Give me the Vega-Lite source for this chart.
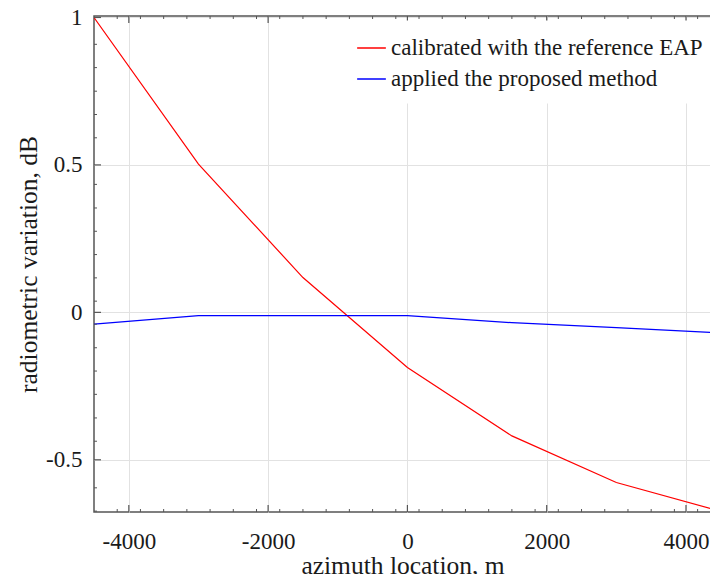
{
  "$schema": "https://vega.github.io/schema/vega-lite/v6.json",
  "width": 617,
  "height": 496,
  "autosize": {"type": "none"},
  "padding": {"left": 94, "top": 16, "right": 0, "bottom": 62},
  "background": "white",
  "config": {
    "view": {"stroke": "#555555", "strokeWidth": 1.5},
    "font": "Liberation Serif"
  },
  "layer": [
    {
      "data": {
        "values": [
          {"series": "calibrated with the reference EAP", "x": -4500, "y": 1.0},
          {"series": "calibrated with the reference EAP", "x": -3000, "y": 0.503},
          {"series": "calibrated with the reference EAP", "x": -1500, "y": 0.118},
          {"series": "calibrated with the reference EAP", "x": 0, "y": -0.187},
          {"series": "calibrated with the reference EAP", "x": 1500, "y": -0.419},
          {"series": "calibrated with the reference EAP", "x": 3000, "y": -0.577},
          {"series": "calibrated with the reference EAP", "x": 4500, "y": -0.675},
          {"series": "applied the proposed method", "x": -4500, "y": -0.040},
          {"series": "applied the proposed method", "x": -3000, "y": -0.011},
          {"series": "applied the proposed method", "x": -1500, "y": -0.011},
          {"series": "applied the proposed method", "x": 0, "y": -0.011},
          {"series": "applied the proposed method", "x": 1500, "y": -0.035},
          {"series": "applied the proposed method", "x": 3000, "y": -0.052},
          {"series": "applied the proposed method", "x": 4500, "y": -0.070}
        ]
      },
      "mark": {"type": "line", "clip": true, "strokeWidth": 1.2},
      "encoding": {
        "x": {
          "field": "x", "type": "quantitative",
          "scale": {"domain": [-4500, 4359], "nice": false, "zero": false},
          "axis": {
            "orient": "bottom",
            "values": [-4000, -2000, 0, 2000, 4000],
            "ticks": false,
            "domain": false,
            "grid": true,
            "gridColor": "#e2e2e2",
            "gridWidth": 1,
            "labelFont": "Liberation Serif",
            "labelFontSize": 23,
            "labelColor": "#1a1a1a",
            "labelPadding": 18,
            "labelFlush": false,
            "labelExpr": "replace(format(datum.value, '~g'), '\u2212', '-')",
            "title": "azimuth location, m",
            "titleFont": "Liberation Serif",
            "titleFontSize": 25.5,
            "titleFontWeight": "normal",
            "titleColor": "#1a1a1a",
            "titlePadding": 0
          }
        },
        "y": {
          "field": "y", "type": "quantitative",
          "scale": {"domain": [-0.677, 1.005], "nice": false, "zero": false},
          "axis": {
            "orient": "left",
            "values": [-0.5, 0, 0.5, 1],
            "ticks": false,
            "domain": false,
            "grid": true,
            "gridColor": "#e2e2e2",
            "gridWidth": 1,
            "labelFont": "Liberation Serif",
            "labelFontSize": 23,
            "labelColor": "#1a1a1a",
            "labelPadding": 12,
            "labelFlush": false,
            "labelExpr": "replace(format(datum.value, '~g'), '\u2212', '-')",
            "title": "radiometric variation, dB",
            "titleFont": "Liberation Serif",
            "titleFontSize": 25.5,
            "titleFontWeight": "normal",
            "titleColor": "#1a1a1a",
            "titlePadding": 4
          }
        },
        "color": {
          "field": "series", "type": "nominal",
          "scale": {
            "domain": ["calibrated with the reference EAP", "applied the proposed method"],
            "range": ["#ff0000", "#0000ff"]
          },
          "legend": {
            "title": null,
            "orient": "none",
            "legendX": 250,
            "legendY": 4.5,
            "padding": 12,
            "fillColor": "white",
            "strokeColor": null,
            "symbolType": "stroke",
            "symbolSize": 824,
            "symbolStrokeWidth": 1.5,
            "labelFont": "Liberation Serif",
            "labelFontSize": 23,
            "labelColor": "#1a1a1a",
            "labelOffset": 4,
            "rowPadding": 3,
            "labelLimit": 500
          }
        }
      }
    },
    {
      "data": {"values": [{"v": -4000}, {"v": -2000}, {"v": 0}, {"v": 2000}, {"v": 4000}]},
      "mark": {"type": "tick", "orient": "vertical", "clip": true, "size": 14, "thickness": 1.2, "color": "#555555", "opacity": 1},
      "encoding": {
        "x": {"field": "v", "type": "quantitative"},
        "y": {"datum": -0.677, "type": "quantitative"}
      }
    },
    {
      "data": {"values": [{"v": -4000}, {"v": -2000}, {"v": 0}, {"v": 2000}, {"v": 4000}]},
      "mark": {"type": "tick", "orient": "vertical", "clip": true, "size": 14, "thickness": 1.2, "color": "#555555", "opacity": 1},
      "encoding": {
        "x": {"field": "v", "type": "quantitative"},
        "y": {"datum": 1.005, "type": "quantitative"}
      }
    },
    {
      "data": {"values": [{"v": -4166.7}, {"v": -3833.3}, {"v": -3500}, {"v": -3166.7}, {"v": -2833.3}, {"v": -2500}, {"v": -2166.7}, {"v": -1833.3}, {"v": -1500}, {"v": -1166.7}, {"v": -833.3}, {"v": -500}, {"v": -166.7}, {"v": 166.7}, {"v": 500}, {"v": 833.3}, {"v": 1166.7}, {"v": 1500}, {"v": 1833.3}, {"v": 2166.7}, {"v": 2500}, {"v": 2833.3}, {"v": 3166.7}, {"v": 3500}, {"v": 3833.3}, {"v": 4166.7}]},
      "mark": {"type": "tick", "orient": "vertical", "clip": true, "size": 6, "thickness": 1, "color": "#555555", "opacity": 1},
      "encoding": {
        "x": {"field": "v", "type": "quantitative"},
        "y": {"datum": -0.677, "type": "quantitative"}
      }
    },
    {
      "data": {"values": [{"v": -4166.7}, {"v": -3833.3}, {"v": -3500}, {"v": -3166.7}, {"v": -2833.3}, {"v": -2500}, {"v": -2166.7}, {"v": -1833.3}, {"v": -1500}, {"v": -1166.7}, {"v": -833.3}, {"v": -500}, {"v": -166.7}, {"v": 166.7}, {"v": 500}, {"v": 833.3}, {"v": 1166.7}, {"v": 1500}, {"v": 1833.3}, {"v": 2166.7}, {"v": 2500}, {"v": 2833.3}, {"v": 3166.7}, {"v": 3500}, {"v": 3833.3}, {"v": 4166.7}]},
      "mark": {"type": "tick", "orient": "vertical", "clip": true, "size": 6, "thickness": 1, "color": "#555555", "opacity": 1},
      "encoding": {
        "x": {"field": "v", "type": "quantitative"},
        "y": {"datum": 1.005, "type": "quantitative"}
      }
    },
    {
      "data": {"values": [{"v": -0.5}, {"v": 0}, {"v": 0.5}, {"v": 1}]},
      "mark": {"type": "tick", "orient": "horizontal", "clip": true, "size": 14, "thickness": 1.2, "color": "#555555", "opacity": 1},
      "encoding": {
        "y": {"field": "v", "type": "quantitative"},
        "x": {"datum": -4500, "type": "quantitative"}
      }
    },
    {
      "data": {"values": [{"v": -0.674}, {"v": -0.595}, {"v": -0.437}, {"v": -0.358}, {"v": -0.278}, {"v": -0.199}, {"v": -0.120}, {"v": -0.040}, {"v": 0.038}, {"v": 0.117}, {"v": 0.196}, {"v": 0.275}, {"v": 0.354}, {"v": 0.434}, {"v": 0.592}, {"v": 0.671}, {"v": 0.750}, {"v": 0.830}, {"v": 0.909}]},
      "mark": {"type": "tick", "orient": "horizontal", "clip": true, "size": 6, "thickness": 1, "color": "#555555", "opacity": 1},
      "encoding": {
        "y": {"field": "v", "type": "quantitative"},
        "x": {"datum": -4500, "type": "quantitative"}
      }
    }
  ]
}
